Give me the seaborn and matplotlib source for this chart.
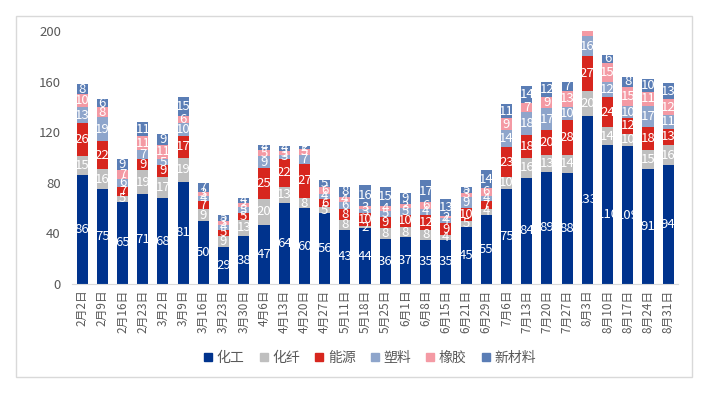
import numpy as np
import pandas as pd
import matplotlib
matplotlib.use("Agg")
import matplotlib.pyplot as plt
from matplotlib.patches import Rectangle
from matplotlib.lines import Line2D
import seaborn as sns

dates = ["2月2日", "2月9日", "2月16日", "2月23日", "3月2日", "3月9日", "3月16日", "3月23日",
         "3月30日", "4月6日", "4月13日", "4月20日", "4月27日", "5月11日", "5月18日", "5月25日",
         "6月1日", "6月8日", "6月15日", "6月21日", "6月29日", "7月6日", "7月13日", "7月20日",
         "7月27日", "8月3日", "8月10日", "8月17日", "8月24日", "8月31日"]

huagong = [86, 75, 65, 71, 68, 81, 50, 29, 38, 47, 64, 60, 56, 43, 44, 36, 37, 35, 35, 45,
           55, 75, 84, 89, 88, 133, 110, 109, 91, 94]
huaxian = [15, 16, 5, 19, 17, 19, 9, 9, 13, 20, 13, 8, 5, 8, 2, 8, 8, 8, 4, 5,
           4, 10, 16, 13, 14, 20, 14, 10, 15, 16]
nengyuan = [26, 22, 7, 9, 9, 17, 7, 5, 5, 25, 22, 27, 6, 8, 10, 9, 10, 12, 9, 10,
            7, 23, 18, 20, 28, 27, 24, 12, 18, 13]
suliao = [13, 19, 6, 7, 5, 10, 4, 4, 5, 9, 3, 7, 4, 6, 3, 5, 5, 4, 4, 9,
          4, 14, 18, 17, 10, 16, 12, 10, 17, 11]
xiangjiao = [10, 8, 7, 11, 11, 6, 3, 3, 3, 5, 3, 5, 6, 4, 3, 4, 3, 6, 2, 3,
             6, 9, 7, 9, 13, 6, 15, 15, 11, 12]
xincailiao = [8, 6, 9, 11, 9, 15, 7, 5, 4, 4, 4, 2, 5, 8, 16, 15, 9, 17, 13, 5,
              14, 11, 14, 12, 7, 7, 6, 8, 10, 13]

series_names = ["化工", "化纤", "能源", "塑料", "橡胶", "新材料"]
colors = ["#00338D", "#BFBFBF", "#D7261E", "#8EA5CB", "#F49AA4", "#5A7DB5"]

sns.set_style("white")
plt.rcParams["font.family"] = ["Noto Sans CJK SC", "DejaVu Sans"]

df = pd.DataFrame({"日期": dates, "化工": huagong, "化纤": huaxian, "能源": nengyuan,
                   "塑料": suliao, "橡胶": xiangjiao, "新材料": xincailiao})
cum = df[series_names].cumsum(axis=1)

fig = plt.figure(figsize=(7.27, 3.94), dpi=100)
ax = fig.add_axes([0.099, 0.279, 0.834, 0.642])

# stacked bars: draw cumulative totals from the top series down
for name, color in reversed(list(zip(series_names, colors))):
    sns.barplot(x=df["日期"], y=cum[name], order=dates, color=color,
                width=0.55, linewidth=0, saturation=1, ax=ax)

# white labels in each segment (they vanish where they spill onto white)
for i in range(len(dates)):
    bottom = 0
    for name in series_names:
        v = df[name][i]
        mid = bottom + v / 2
        if v > 0 and mid < 196:
            ax.text(i, mid, str(v), ha="center", va="center", color="white", fontsize=9.5)
        bottom += v

ax.set_ylim(0, 200)
ax.set_xlim(-0.5, len(dates) - 0.5)
ax.set_yticks(range(0, 201, 40))
ax.set_xlabel("")
ax.set_ylabel("")
ax.tick_params(axis="both", length=0, colors="#595959")
ax.tick_params(axis="y", labelsize=9.5, pad=8)
ax.tick_params(axis="x", labelsize=8.5, rotation=90, pad=4)
for s in ["left", "top", "right"]:
    ax.spines[s].set_visible(False)
ax.spines["bottom"].set_color("#D9D9D9")

handles = [Line2D([0], [0], marker="s", linestyle="", markersize=6,
                  markerfacecolor=c, markeredgecolor=c) for c in colors]
fig.legend(handles, series_names, loc="center", bbox_to_anchor=(0.509, 0.091), ncol=6,
           frameon=False, fontsize=10, handlelength=0.6, handletextpad=0.3,
           columnspacing=1.1, labelcolor="#595959")

fig.patches.append(Rectangle((0.022, 0.043), 0.930, 0.916, transform=fig.transFigure,
                             fill=False, edgecolor="#D9D9D9", linewidth=1))

fig.savefig("out.png", dpi=100)
